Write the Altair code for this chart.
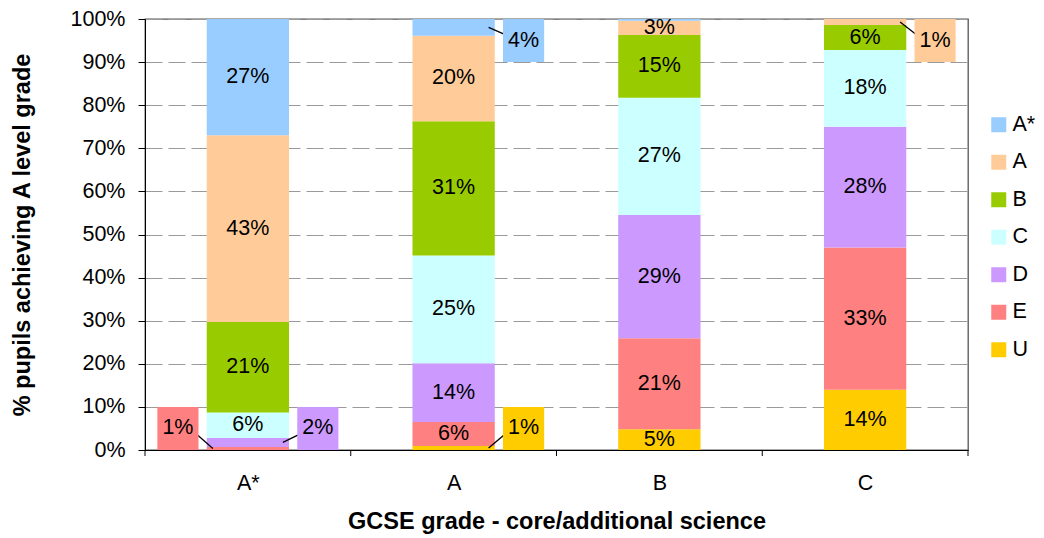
import json
import altair as alt
import pandas as pd

# ---------------- data ----------------
grades = ["A*", "A", "B", "C"]                      # GCSE grade (x axis)
series = ["A*", "A", "B", "C", "D", "E", "U"]       # A level grade (stack, top -> bottom)
colors = ["#99CCFF", "#FFCC99", "#99CC00", "#CCFFFF", "#CC99FF", "#FF8080", "#FFCC00"]

# % of pupils achieving each A level grade, listed in `series` order
pct_gcse_Astar = [27.0, 43.3, 21.0, 5.9, 2.1, 0.7, 0.0]
pct_gcse_A = [3.9, 19.8, 31.2, 25.0, 13.6, 5.6, 0.9]
pct_gcse_B = [0.4, 3.3, 14.6, 27.2, 28.6, 21.1, 4.8]
pct_gcse_C = [0.0, 1.4, 5.8, 17.8, 28.0, 33.0, 14.0]

# small segments whose label sits in a call-out box beside the bar
callout_grade = ["A*", "A*", "A", "A", "C"]
callout_series = ["E", "D", "A*", "U", "A"]
callout_side = [-1, 1, 1, 1, 1]

y_ticks = [0, 10, 20, 30, 40, 50, 60, 70, 80, 90, 100]

# ---------------- tables ----------------
FONT = "Liberation Sans"
LBL = 21.5
TTL = 23.5
values = [pct_gcse_Astar, pct_gcse_A, pct_gcse_B, pct_gcse_C]
HALF = 0.2  # half bar width in category units

rows = []
for gi, g in enumerate(grades):
    cum = 0.0
    # stack from the bottom (U) up to A*
    for si in reversed(range(len(series))):
        v = values[gi][si]
        c = gi + 0.5
        rows.append(dict(grade=g, series=series[si], value=v, center=c,
                         x0=c - HALF, x1=c + HALF, y0=cum, y1=cum + v,
                         mid=cum + v / 2, label=f"{round(v)}%"))
        cum += v
df = pd.DataFrame(rows)

co_keys = set(zip(callout_grade, callout_series))
inside = df[(df["value"] >= 2.5) & ~df.apply(lambda r: (r["grade"], r["series"]) in co_keys, axis=1)]

co_rows = []
for g, s, side in zip(callout_grade, callout_series, callout_side):
    r = df[(df["grade"] == g) & (df["series"] == s)].iloc[0]
    top = r["mid"] > 50
    ylab = 95 if top else 5
    xb = r["center"] + side * 0.34
    co_rows.append(dict(series=s, label=r["label"], xb=xb, bx0=xb - 0.1, bx1=xb + 0.1,
                        ylab=ylab, by0=ylab - 5, by1=ylab + 5,
                        lx0=r["center"] + side * 0.17, ly0=r["mid"],
                        lx1=r["center"] + side * 0.245, ly1=ylab + (1.5 if top else -1.5)))
co = pd.DataFrame(co_rows)

bounds = pd.DataFrame({"b": list(range(len(grades) + 1))})

# ---------------- encodings ----------------
label_expr = json.dumps(grades) + "[floor(datum.value)]"
xscale = alt.Scale(domain=[0, len(grades)], nice=False, zero=False)
yscale = alt.Scale(domain=[0, 100], nice=False)

color_enc = alt.Color(
    "series:N",
    scale=alt.Scale(domain=series, range=colors),
    legend=alt.Legend(title=None, orient="none", legendX=843, legendY=95,
                      symbolType="square", symbolSize=225, symbolStrokeWidth=0,
                      labelFont=FONT, labelFontSize=LBL, labelColor="black",
                      labelOffset=3, rowPadding=14.5, padding=0),
)

x_axis = alt.Axis(values=[i + 0.5 for i in range(len(grades))], labelExpr=label_expr,
                  ticks=False, grid=False, domainColor="black",
                  labelFont=FONT, labelFontSize=LBL, labelColor="black", labelPadding=22,
                  title="GCSE grade - core/additional science", titleFont=FONT,
                  titleFontSize=TTL, titleFontWeight="bold", titleColor="black", titlePadding=16)
y_axis = alt.Axis(values=y_ticks, labelExpr="datum.value + '%'", tickSize=7, tickColor="black",
                  domainColor="black", grid=True, gridColor="#9a9a9a", gridDash=[17, 6],
                  labelFont=FONT, labelFontSize=LBL, labelColor="black", labelPadding=13,
                  title="% pupils achieving A level grade", titleFont=FONT, titleFontSize=TTL,
                  titleFontWeight="bold", titleColor="black", titlePadding=36)

bars = alt.Chart(df).mark_rect().encode(
    x=alt.X("x0:Q", scale=xscale, axis=x_axis),
    x2="x1:Q",
    y=alt.Y("y0:Q", scale=yscale, axis=y_axis),
    y2="y1:Q",
    color=color_enc,
)

texts = alt.Chart(inside).mark_text(font=FONT, fontSize=LBL, color="black", baseline="middle").encode(
    x="center:Q", y="mid:Q", text="label:N")

boxes = alt.Chart(co).mark_rect().encode(
    x="bx0:Q", x2="bx1:Q", y="by0:Q", y2="by1:Q", color=color_enc)

leaders = alt.Chart(co).mark_rule(color="black", strokeWidth=1.3).encode(
    x="lx0:Q", x2="lx1:Q", y="ly0:Q", y2="ly1:Q")

co_text = alt.Chart(co).mark_text(font=FONT, fontSize=LBL, color="black", baseline="middle").encode(
    x="xb:Q", y="ylab:Q", text="label:N")

xticks = alt.Chart(bounds).mark_rule(color="black").encode(
    x="b:Q", y=alt.value(431), y2=alt.value(437))

chart = alt.layer(bars, texts, leaders, boxes, co_text, xticks).properties(
    width=823, height=431,
    autosize=alt.AutoSizeParams(type="none"),
    padding={"left": 137, "top": 11, "right": 68, "bottom": 84},
).configure_view(stroke="#555555", strokeWidth=1.3)

chart.save("out.html", embed_options={"renderer": "svg", "actions": False})
